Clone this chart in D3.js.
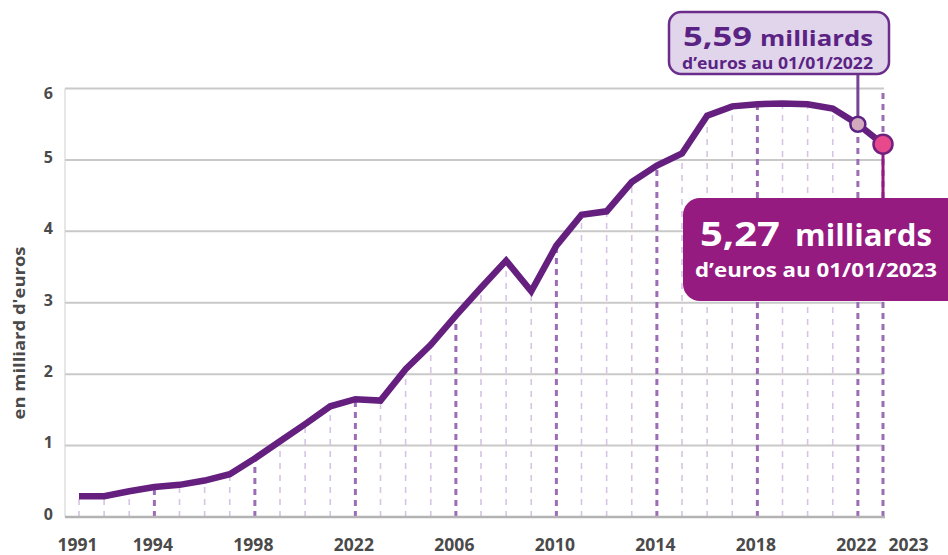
<!DOCTYPE html>
<html>
<head>
<meta charset="utf-8">
<script src="https://cdn.jsdelivr.net/npm/d3@7"></script>
<style>
  body { margin: 0; background: #fff; }
  svg { display: block; font-family: "Open Sans", sans-serif; font-weight: 700; }
</style>
</head>
<body>
<svg id="chart" width="948" height="555"></svg>
<script>
// values (milliards d'euros, 1st January of each year)
const years = [1991, 1992, 1993, 1994, 1995, 1996, 1997, 1998, 1999, 2000, 2001, 2002,
  2003, 2004, 2005, 2006, 2007, 2008, 2009, 2010, 2011, 2012, 2013, 2014, 2015, 2016,
  2017, 2018, 2019, 2020, 2021, 2022, 2023];
const values = [0.29, 0.29, 0.36, 0.42, 0.45, 0.51, 0.60, 0.82, 1.06, 1.30, 1.55, 1.65,
  1.63, 2.07, 2.41, 2.82, 3.21, 3.59, 3.16, 3.80, 4.23, 4.28, 4.69, 4.92, 5.09, 5.62,
  5.75, 5.78, 5.79, 5.78, 5.72, 5.50, 5.22];
const tickYears = [1991, 1994, 1998, 2002, 2006, 2010, 2014, 2018, 2022, 2023];
const tickLabels = ['1991', '1994', '1998', '2022', '2006', '2010', '2014', '2018', '2022', '2023'];
const yTicks = [0, 1, 2, 3, 4, 5, 6];
const calloutBig = ['5,59', '5,27'];
const calloutUnit = ['milliards', 'milliards'];
const calloutSub = ['d\u2019euros au 01/01/2022', 'd\u2019euros au 01/01/2023'];

const svg = d3.select('#chart');
const data = years.map((yr, i) => ({ year: yr, value: values[i] }));

const x = d3.scaleLinear().domain([1991, 2023]).range([79, 883]);
const y = d3.scaleLinear().domain([0, 6]).range([517, 88.5]);

const textColor = '#4a4a4a';
const lineColor = '#65207f';

// horizontal grid
svg.append('g')
  .selectAll('line')
  .data(yTicks.filter(d => d > 0))
  .enter()
  .append('line')
  .attr('x1', 65).attr('x2', 884)
  .attr('y1', d => y(d)).attr('y2', d => y(d))
  .attr('stroke', '#c9c9c9')
  .attr('stroke-width', 2);

// y axis line
svg.append('line')
  .attr('x1', 65).attr('x2', 65)
  .attr('y1', y(6)).attr('y2', y(0))
  .attr('stroke', '#cfcfcf')
  .attr('stroke-width', 1);

// vertical dashed year lines, up to the curve
const major = new Set(tickYears.filter(d => d !== 1991));
svg.append('g')
  .selectAll('line')
  .data(data)
  .enter()
  .append('line')
  .attr('x1', d => x(d.year)).attr('x2', d => x(d.year))
  .attr('y1', y(0))
  .attr('y2', d => d.year === 2023 ? y(6) : y(d.value))
  .attr('stroke', d => major.has(d.year) ? '#9c6db6' : '#d6c4e4')
  .attr('stroke-width', d => major.has(d.year) ? 3 : 1.6)
  .attr('stroke-dasharray', d => major.has(d.year) ? '6,5' : '6,6');

// x axis
const xAxis = d3.axisBottom(x)
  .tickValues(tickYears)
  .tickFormat((d, i) => tickLabels[i])
  .tickSize(0)
  .tickPadding(22);

const gx = svg.append('g')
  .attr('transform', `translate(0,${y(0)})`)
  .call(xAxis);
gx.select('.domain').remove();
gx.selectAll('text')
  .attr('fill', textColor)
  .style('font-size', '17.5px')
  .style('font-family', '"Open Sans", sans-serif')
  .style('font-weight', 700)
  .attr('dx', (d, i) => i === tickYears.length - 1 ? 25 : -2);

svg.append('line')
  .attr('x1', 65).attr('x2', 885)
  .attr('y1', y(0)).attr('y2', y(0))
  .attr('stroke', '#b3b3b3')
  .attr('stroke-width', 2.5);

// y axis labels
const yAxis = d3.axisLeft(y).tickValues(yTicks).tickFormat(d3.format('d')).tickSize(0).tickPadding(12);
const gy = svg.append('g').attr('transform', 'translate(65,0)').call(yAxis);
gy.select('.domain').remove();
gy.selectAll('text')
  .attr('fill', textColor)
  .attr('dy', d => d === 6 ? '0.62em' : '0.15em')
  .style('font-size', '16px')
  .style('font-family', '"Open Sans", sans-serif')
  .style('font-weight', 700);

svg.append('text')
  .attr('transform', 'translate(25,333) rotate(-90)')
  .attr('text-anchor', 'middle')
  .attr('fill', textColor)
  .attr('textLength', 173)
  .attr('lengthAdjust', 'spacingAndGlyphs')
  .style('font-size', '16px')
  .text("en milliard d'euros");

// the curve
const line = d3.line().x(d => x(d.year)).y(d => y(d.value));
svg.append('path')
  .datum(data)
  .attr('d', line)
  .attr('fill', 'none')
  .attr('stroke', lineColor)
  .attr('stroke-width', 6.5)
  .attr('stroke-linejoin', 'miter');

const p22 = data.find(d => d.year === 2022);
const p23 = data.find(d => d.year === 2023);

function label(xPos, yPos, len, size, color, txt) {
  svg.append('text')
    .attr('x', xPos).attr('y', yPos)
    .attr('fill', color)
    .attr('textLength', len)
    .attr('lengthAdjust', 'spacingAndGlyphs')
    .style('font-size', size + 'px')
    .text(txt);
}

// 2022 connector + box
svg.append('line')
  .attr('x1', x(2022)).attr('x2', x(2022))
  .attr('y1', 74).attr('y2', y(p22.value))
  .attr('stroke', '#7a4199').attr('stroke-width', 3);

svg.append('rect')
  .attr('x', 669).attr('y', 12)
  .attr('width', 220).attr('height', 62)
  .attr('rx', 12)
  .attr('fill', '#e1d5eb')
  .attr('stroke', '#6b2d8b')
  .attr('stroke-width', 2.5);

label(683, 46, 69, 27, '#5a2383', calloutBig[0]);
label(760, 46, 113, 22, '#5a2383', calloutUnit[0]);
label(682, 69, 191, 15.5, '#5a2383', calloutSub[0]);

// 2023 connector + box
svg.append('line')
  .attr('x1', x(2023)).attr('x2', x(2023))
  .attr('y1', y(p23.value)).attr('y2', 200)
  .attr('stroke', '#931b80').attr('stroke-width', 3);

svg.append('rect')
  .attr('x', 683).attr('y', 198)
  .attr('width', 290).attr('height', 103)
  .attr('rx', 17)
  .attr('fill', '#951b81');

label(700, 246, 80, 34, '#ffffff', calloutBig[1]);
label(795, 246, 137, 31, '#ffffff', calloutUnit[1]);
label(695, 277, 242, 19.5, '#ffffff', calloutSub[1]);

// points
svg.append('circle')
  .attr('cx', x(2022)).attr('cy', y(p22.value))
  .attr('r', 7.5)
  .attr('fill', '#d3a9bd')
  .attr('stroke', '#5c2384')
  .attr('stroke-width', 2.5);

svg.append('circle')
  .attr('cx', x(2023)).attr('cy', y(p23.value))
  .attr('r', 9.5)
  .attr('fill', '#e8498c')
  .attr('stroke', '#72207e')
  .attr('stroke-width', 2.5);
</script>
</body>
</html>
